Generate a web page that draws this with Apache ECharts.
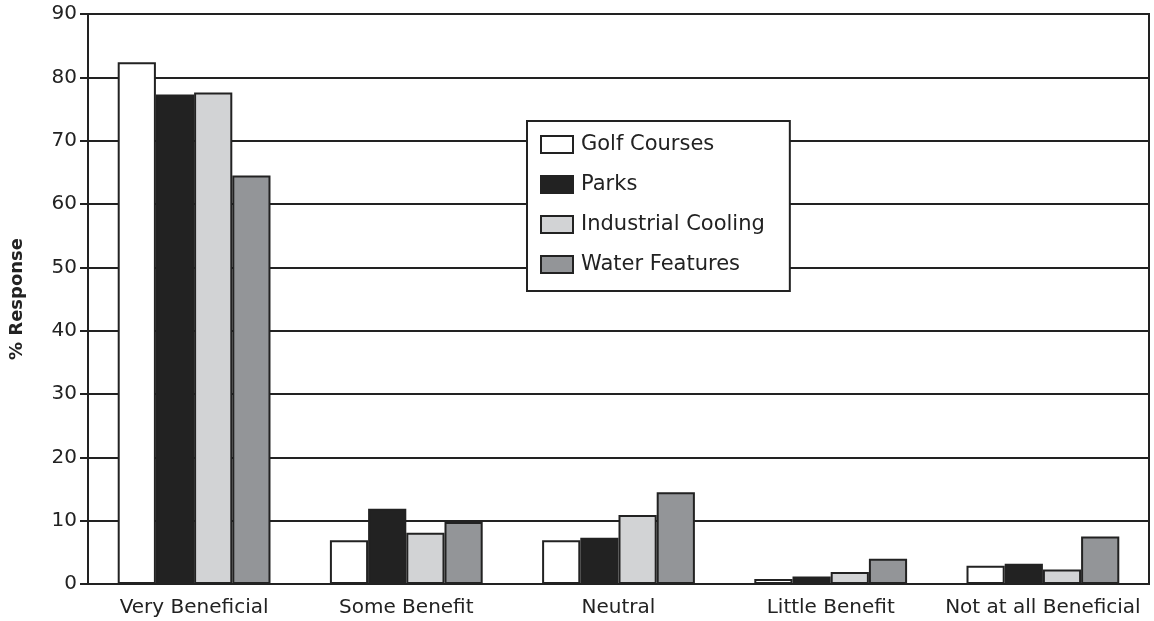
<!DOCTYPE html>
<html>
<head>
<meta charset="utf-8" />
<title>% Response</title>
<script src="https://cdn.jsdelivr.net/npm/echarts@6/dist/echarts.min.js"></script>
<style>
  html, body { margin: 0; padding: 0; background: #fff; }
  #chart { width: 1154px; height: 621px; }
</style>
</head>
<body>
<div id="chart"></div>
<script type="text/javascript">
// categories
var categories = ['Very Beneficial', 'Some Benefit', 'Neutral', 'Little Benefit', 'Not at all Beneficial'];
// series values (% response)
var golfCourses = [82.4, 6.9, 6.9, 0.8, 2.9];
var parks = [77.3, 11.9, 7.3, 1.2, 3.2];
var industrialCooling = [77.6, 8.1, 10.9, 1.9, 2.3];
var waterFeatures = [64.5, 9.8, 14.5, 4.0, 7.5];
var seriesNames = ['Golf Courses', 'Parks', 'Industrial Cooling', 'Water Features'];
var seriesColors = ['#ffffff', '#222222', '#d2d3d5', '#939598'];

var fontFam = 'DejaVu Sans, Liberation Sans, Arial, sans-serif';

function makeBar(idx, data) {
    return {
        name: seriesNames[idx],
        type: 'bar',
        data: data,
        barGap: '0%',
        barCategoryGap: '28%',
        itemStyle: {
            color: seriesColors[idx],
            borderColor: '#222',
            borderWidth: 2
        }
    };
}

var myChart = echarts.init(document.getElementById('chart'));
var option = {
    animation: false,
    backgroundColor: '#fff',
    grid: {
        left: 88, right: 5, top: 14, bottom: 37,
        show: true,
        borderColor: '#222',
        borderWidth: 2
    },
    legend: {
        orient: 'vertical',
        left: 527,
        top: 121,
        padding: [13, 25, 16, 13],
        icon: 'rect',
        itemWidth: 32,
        itemHeight: 17,
        itemGap: 19,
        backgroundColor: '#fff',
        borderColor: '#222',
        borderWidth: 2,
        textStyle: { fontFamily: fontFam, fontSize: 21, color: '#222', padding: [0, 0, 0, 3] },
        data: seriesNames
    },
    xAxis: {
        type: 'category',
        data: categories,
        axisLine: { lineStyle: { color: '#222', width: 2 } },
        axisTick: { show: false },
        axisLabel: { fontFamily: fontFam, fontSize: 20, color: '#222', margin: 14, interval: 0 }
    },
    yAxis: {
        type: 'value',
        min: 0,
        max: 90,
        interval: 10,
        name: '% Response',
        nameLocation: 'middle',
        nameGap: 62,
        nameTextStyle: { fontFamily: fontFam, fontSize: 18, fontWeight: 'bold', color: '#222' },
        axisLine: { show: true, lineStyle: { color: '#222', width: 2 } },
        axisTick: { show: true, length: 8, lineStyle: { color: '#222', width: 2 } },
        axisLabel: { fontFamily: fontFam, fontSize: 20, color: '#222', margin: 11 },
        splitLine: { show: true, lineStyle: { color: '#222', width: 2 } }
    },
    series: [
        makeBar(0, golfCourses),
        makeBar(1, parks),
        makeBar(2, industrialCooling),
        makeBar(3, waterFeatures)
    ]
};
myChart.setOption(option);
</script>
</body>
</html>
